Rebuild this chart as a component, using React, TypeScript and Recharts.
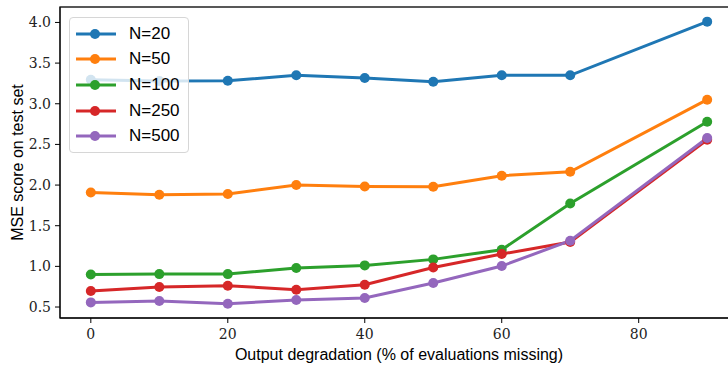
import { LineChart, Line, XAxis, YAxis, ReferenceArea } from 'recharts';

const missing = [0, 10, 20, 30, 40, 50, 60, 70, 90];

const n20 = [3.295, 3.28, 3.283, 3.35, 3.316, 3.27, 3.35, 3.35, 4.01];
const n50 = [1.909, 1.881, 1.89, 2.0, 1.983, 1.98, 2.115, 2.164, 3.05];
const n100 = [0.901, 0.905, 0.905, 0.98, 1.012, 1.086, 1.205, 1.774, 2.779];
const n250 = [0.697, 0.746, 0.762, 0.713, 0.775, 0.987, 1.152, 1.3, 2.558];
const n500 = [0.557, 0.574, 0.541, 0.586, 0.611, 0.795, 1.004, 1.316, 2.578];

const xTicks = [0, 20, 40, 60, 80];
const yTicks = [0.5, 1.0, 1.5, 2.0, 2.5, 3.0, 3.5, 4.0];

const series = [
  { key: 'n20', name: 'N=20', color: '#1f77b4', values: n20 },
  { key: 'n50', name: 'N=50', color: '#ff7f0e', values: n50 },
  { key: 'n100', name: 'N=100', color: '#2ca02c', values: n100 },
  { key: 'n250', name: 'N=250', color: '#d62728', values: n250 },
  { key: 'n500', name: 'N=500', color: '#9467bd', values: n500 },
];

const data = missing.map((x, i) => {
  const row: Record<string, number> = { x };
  for (const s of series) row[s.key] = s.values[i];
  return row;
});

const xDomain: [number, number] = [-4.5, 94.5];
const yDomain: [number, number] = [0.365, 4.19];

const serif = 'DejaVu Serif';
const sans = 'Liberation Sans';

const renderXTick = (props: any) => (
  <text
    key={`x-${props.payload.value}`}
    x={props.x}
    y={props.y + 14}
    textAnchor="middle"
    fontFamily={serif}
    fontSize={14}
    fill="#222"
  >
    {props.payload.value}
  </text>
);

const renderYTick = (props: any) => (
  <text
    key={`y-${props.payload.value}`}
    x={props.x - 2}
    y={props.y + 5}
    textAnchor="end"
    fontFamily={serif}
    fontSize={14}
    fill="#222"
  >
    {Number(props.payload.value).toFixed(1)}
  </text>
);

function LegendBox() {
  return (
    <div
      style={{
        position: 'absolute',
        left: 69,
        top: 17,
        background: 'rgba(255,255,255,0.8)',
        border: '1px solid #d6d6d6',
        borderRadius: 4,
        padding: '3px 8px 3px 5px',
        fontFamily: sans,
        fontSize: 17,
        color: '#000',
      }}
    >
      {series.map((s) => (
        <div key={s.key} style={{ display: 'flex', alignItems: 'center', height: 25.6 }}>
          <svg width={54} height={14}>
            <line x1={1} y1={7} x2={41} y2={7} stroke={s.color} strokeWidth={3} />
            <circle cx={20} cy={7} r={5} fill={s.color} />
          </svg>
          <span>{s.name}</span>
        </div>
      ))}
    </div>
  );
}

export default function App() {
  return (
    <div
      style={{
        position: 'fixed',
        left: 0,
        top: 0,
        width: 728,
        height: 368,
        overflow: 'hidden',
        background: '#fff',
      }}
    >
      <LineChart
        width={760}
        height={368}
        data={data}
        margin={{ top: 7, right: 22, left: 0, bottom: 0 }}
      >
        <ReferenceArea
          x1={xDomain[0]}
          x2={xDomain[1]}
          y1={yDomain[0]}
          y2={yDomain[1]}
          fill="none"
          stroke="#222"
          strokeWidth={1.3}
          ifOverflow="visible"
        />
        <XAxis
          dataKey="x"
          type="number"
          domain={xDomain}
          ticks={xTicks}
          allowDataOverflow
          height={50}
          stroke="#000"
          tickSize={5}
          tick={renderXTick}
          label={{
            value: 'Output degradation (% of evaluations missing)',
            position: 'insideBottom',
            offset: 8,
            fill: '#000',
            fontFamily: sans,
            fontSize: 16,
          }}
        />
        <YAxis
          type="number"
          domain={yDomain}
          ticks={yTicks}
          allowDataOverflow
          width={60}
          stroke="#000"
          tickSize={5}
          tick={renderYTick}
          label={{
            value: 'MSE score on test set',
            angle: -90,
            position: 'insideLeft',
            offset: 17,
            fill: '#000',
            fontFamily: sans,
            fontSize: 16,
            style: { textAnchor: 'middle' },
          }}
        />
        {series.map((s) => (
          <Line
            key={s.key}
            dataKey={s.key}
            name={s.name}
            stroke={s.color}
            strokeWidth={3}
            dot={{ r: 5, fill: s.color, stroke: 'none' }}
            activeDot={false}
            isAnimationActive={false}
          />
        ))}
      </LineChart>
      <LegendBox />
    </div>
  );
}
